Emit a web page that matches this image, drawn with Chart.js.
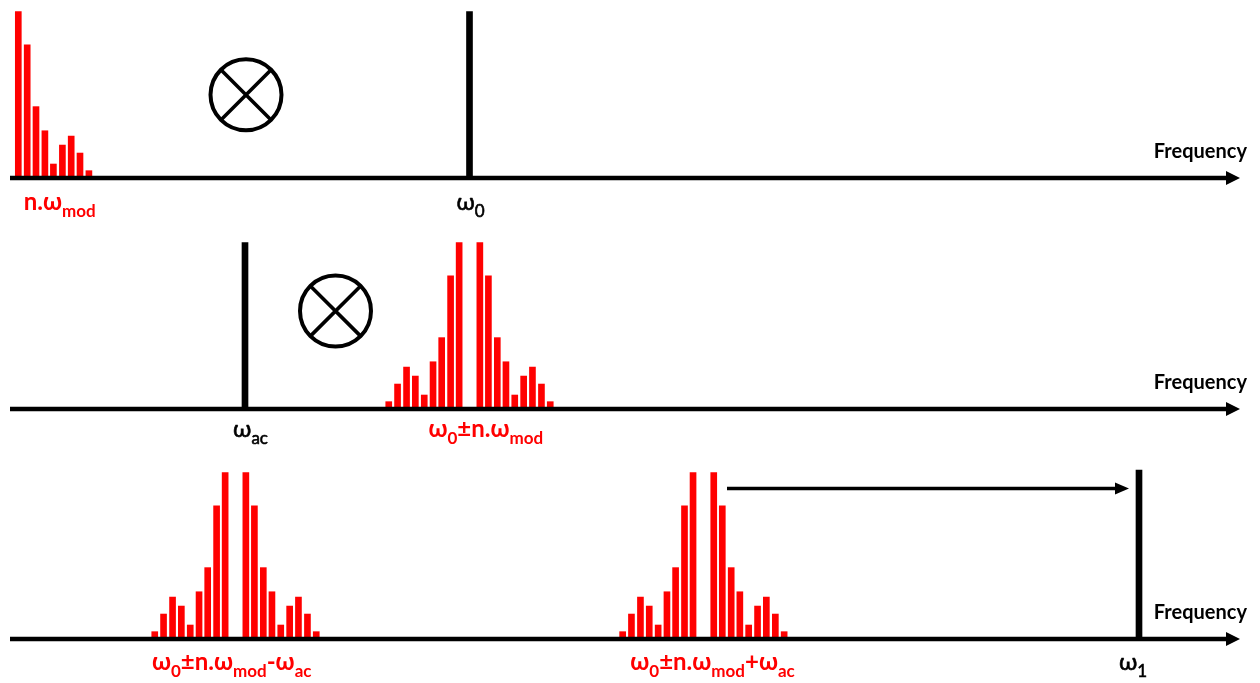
<!DOCTYPE html>
<html>
<head>
<meta charset="utf-8">
<script src="https://cdn.jsdelivr.net/npm/chart.js@4.4.0/dist/chart.umd.min.js"></script>
<style>
  html, body { margin: 0; padding: 0; background: #ffffff; }
  body { width: 1260px; height: 683px; overflow: hidden; position: relative; }
  canvas { position: absolute; left: 0; }
</style>
</head>
<body>
<canvas id="p1" width="1260" height="231" style="top:0px;width:1260px;height:231px"></canvas>
<canvas id="p2" width="1260" height="230" style="top:231px;width:1260px;height:230px"></canvas>
<canvas id="p3" width="1260" height="222" style="top:461px;width:1260px;height:222px"></canvas>
<script>
// ---------- DATA ----------
// harmonic order n of the modulation comb
const harmonicOrder = [1, 2, 3, 4, 5, 6, 7, 8, 9];
// relative amplitude of each harmonic (carrier = 100)
const harmonicAmplitude = [100, 80, 42.9, 28.4, 8.4, 19.8, 25.2, 15, 4.4];
// baseband frequencies n.ωmod (frequency axis units)
const basebandFreq = [18.3, 27.2, 36, 44.9, 53.4, 62.4, 71.2, 80, 88.9];
// sideband offsets ±n.ωmod around a carrier
const sidebandOffset = [10.35, 18.9, 27.8, 36.45, 45.25, 54.15, 62.95, 71.95, 80.75];
// single tones
const omega0 = 469.5;
const omegaAc = 245;
const omega1 = 1139;
const toneAmplitude = [100, 100, 101.6];      // ω0, ωac, ω1
// centres of the mixed combs ω0-ωac and ω0+ωac
const mixedCenters = [235.5, 703.4];
// shift arrow (from + comb to ω1)
const shiftArrow = { from: 727, to: 1129, level: 90.5 };
// labels
const labelsPanel1 = [
  { text: 'n.ω_{mod}', x: 59.7, color: '#ff0000', bold: true },
  { text: 'ω_{0}', x: 470.5, color: '#000000', bold: false }
];
const labelsPanel2 = [
  { text: 'ω_{ac}', x: 250.5, color: '#000000', bold: false },
  { text: 'ω_{0}±n.ω_{mod}', x: 485.8, color: '#ff0000', bold: true }
];
const labelsPanel3 = [
  { text: 'ω_{0}±n.ω_{mod}-ω_{ac}', x: 231.7, color: '#ff0000', bold: true },
  { text: 'ω_{0}±n.ω_{mod}+ω_{ac}', x: 712.5, color: '#ff0000', bold: true },
  { text: 'ω_{1}', x: 1133, color: '#000000', bold: false }
];
const axisTitle = 'Frequency';
// mixer symbols (x in frequency units, y in amplitude units)
const mixerPanel1 = { x: 246, y: 50 };
const mixerPanel2 = { x: 335.5, y: 58.9 };

// ---------- RENDERING ----------
const RED = '#ff0000';
const BLACK = '#000000';
const FONT = "Lato, 'Noto Sans', 'DejaVu Sans', sans-serif";
const AXIS_PX = 178;   // chart area height of each panel

function comb(freqs, color) {
  return {
    data: freqs.map((f, i) => ({ x: f, y: harmonicAmplitude[i] })),
    backgroundColor: color
  };
}
function sidebands(center) {
  const pts = [];
  harmonicOrder.forEach((n, i) => {
    pts.push({ x: center - sidebandOffset[i], y: harmonicAmplitude[i] });
    pts.push({ x: center + sidebandOffset[i], y: harmonicAmplitude[i] });
  });
  return { data: pts, backgroundColor: RED };
}
function tone(f, a) {
  return { data: [{ x: f, y: a }], backgroundColor: BLACK };
}

function parseRich(markup) {
  const segs = [];
  const re = /_\{([^}]*)\}|([^_]+)/g;
  let m;
  while ((m = re.exec(markup)) !== null) {
    if (m[1] !== undefined) segs.push({ t: m[1], sub: true });
    else segs.push({ t: m[2], sub: false });
  }
  return segs;
}
function drawRich(ctx, markup, cx, baseline, size, bold, color) {
  const segs = parseRich(markup);
  const subSize = Math.round(size * 0.7);
  const w = bold ? 'bold ' : '';
  let total = 0;
  segs.forEach(s => {
    ctx.font = w + (s.sub ? subSize : size) + 'px ' + FONT;
    s.w = ctx.measureText(s.t).width;
    total += s.w;
  });
  let x = cx - total / 2;
  ctx.fillStyle = color;
  ctx.strokeStyle = color;
  ctx.textAlign = 'left';
  ctx.textBaseline = 'alphabetic';
  segs.forEach(s => {
    ctx.font = w + (s.sub ? subSize : size) + 'px ' + FONT;
    const yy = baseline + (s.sub ? Math.round(size * 0.29) : 0);
    ctx.fillText(s.t, x, yy);
    if (!bold) { ctx.lineWidth = 0.6; ctx.strokeText(s.t, x, yy); }
    x += s.w;
  });
}

function overlay(cfg) {
  return {
    id: 'overlay',
    afterDatasetsDraw(chart) {
      const ctx = chart.ctx;
      const xs = chart.scales.x, ys = chart.scales.y;
      const y0 = ys.getPixelForValue(0);
      ctx.save();
      // frequency axis with arrow
      const xStart = xs.getPixelForValue(10), xTip = xs.getPixelForValue(1240);
      ctx.strokeStyle = BLACK; ctx.fillStyle = BLACK;
      ctx.lineWidth = 4.5; ctx.lineCap = 'butt';
      ctx.beginPath(); ctx.moveTo(xStart, y0); ctx.lineTo(xTip - 12, y0); ctx.stroke();
      ctx.beginPath(); ctx.moveTo(xTip, y0); ctx.lineTo(xTip - 14, y0 - 7); ctx.lineTo(xTip - 14, y0 + 7); ctx.closePath(); ctx.fill();
      // axis title
      ctx.font = 'bold 20px ' + FONT;
      ctx.textAlign = 'right'; ctx.textBaseline = 'alphabetic';
      ctx.fillText(axisTitle, 1247, y0 - 20);
      // mixer symbol
      if (cfg.mixer) {
        const cx = xs.getPixelForValue(cfg.mixer.x), cy = ys.getPixelForValue(cfg.mixer.y);
        const r = 35.5;
        ctx.lineWidth = 4;
        ctx.beginPath(); ctx.arc(cx, cy, r, 0, Math.PI * 2); ctx.stroke();
        const d = r * Math.SQRT1_2;
        ctx.lineWidth = 3.6;
        ctx.beginPath();
        ctx.moveTo(cx - d, cy - d); ctx.lineTo(cx + d, cy + d);
        ctx.moveTo(cx + d, cy - d); ctx.lineTo(cx - d, cy + d);
        ctx.stroke();
      }
      // shift arrow
      if (cfg.arrow) {
        const ay = ys.getPixelForValue(cfg.arrow.level);
        const a0 = xs.getPixelForValue(cfg.arrow.from), a1 = xs.getPixelForValue(cfg.arrow.to);
        ctx.lineWidth = 3.6;
        ctx.beginPath(); ctx.moveTo(a0, ay); ctx.lineTo(a1 - 10, ay); ctx.stroke();
        ctx.beginPath(); ctx.moveTo(a1, ay); ctx.lineTo(a1 - 14, ay - 6); ctx.lineTo(a1 - 14, ay + 6); ctx.closePath(); ctx.fill();
      }
      // labels
      cfg.labels.forEach(l => {
        drawRich(ctx, l.text, xs.getPixelForValue(l.x), y0 + cfg.labelDy, 24, l.bold, l.color);
      });
      ctx.restore();
    }
  };
}

function panel(id, datasets, cfg) {
  const canvas = document.getElementById(id);
  return new Chart(canvas, {
    type: 'bar',
    data: { datasets },
    options: {
      responsive: false,
      maintainAspectRatio: false,
      animation: false,
      devicePixelRatio: 1,
      layout: { padding: { left: 0, right: 0, top: 0, bottom: canvas.height - AXIS_PX } },
      scales: {
        x: { type: 'linear', min: 0, max: 1260, display: false, offset: false },
        y: { type: 'linear', min: 0, max: 107, display: false }
      },
      datasets: { bar: { grouped: false, barThickness: 6, borderWidth: 0 } },
      plugins: { legend: { display: false }, tooltip: { enabled: false } },
      events: []
    },
    plugins: [overlay(cfg)]
  });
}

panel('p1', [comb(basebandFreq, RED), tone(omega0, toneAmplitude[0])],
  { labels: labelsPanel1, labelDy: 32, mixer: mixerPanel1 });
panel('p2', [sidebands(omega0), tone(omegaAc, toneAmplitude[1])],
  { labels: labelsPanel2, labelDy: 28, mixer: mixerPanel2 });
panel('p3', [sidebands(mixedCenters[0]), sidebands(mixedCenters[1]), tone(omega1, toneAmplitude[2])],
  { labels: labelsPanel3, labelDy: 31, arrow: shiftArrow });
</script>
</body>
</html>
